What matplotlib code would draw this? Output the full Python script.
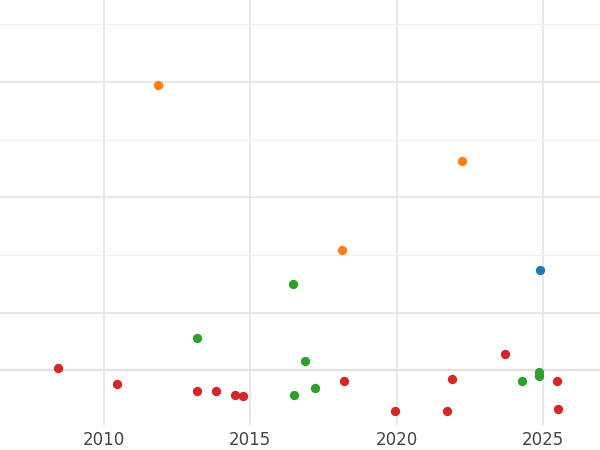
import matplotlib
matplotlib.use("Agg")
import matplotlib.pyplot as plt
from matplotlib.ticker import MultipleLocator, FixedLocator

orange_x = [2011.84, 2022.22, 2018.12]
orange_y = [4.95, 3.63, 2.08]
blue_x = [2024.91]
blue_y = [1.74]
green_x = [2016.45, 2013.17, 2016.86, 2016.48, 2017.20, 2024.85, 2024.85, 2024.27]
green_y = [1.49, 0.57, 0.17, -0.43, -0.31, -0.02, -0.10, -0.19]
red_x = [2008.43, 2010.44, 2013.17, 2013.82, 2014.47, 2014.74, 2018.19, 2019.93, 2021.71, 2021.91, 2023.72, 2025.49, 2025.53]
red_y = [0.05, -0.24, -0.35, -0.35, -0.42, -0.45, -0.19, -0.71, -0.71, -0.14, 0.28, -0.19, -0.66]

fig = plt.figure(figsize=(6, 4.5), dpi=100)
ax = fig.add_axes([0, 0.055, 1, 0.945])
ax.set_xlim(2006.45, 2026.95)
ax.set_ylim(-0.95, 6.42)
ax.xaxis.set_major_locator(MultipleLocator(5))
ax.yaxis.set_major_locator(FixedLocator([1, 3, 5]))
ax.yaxis.set_minor_locator(FixedLocator([2, 4, 6]))
ax.grid(True, which='major', color='#e6e6e6', lw=1.3)
ax.grid(True, which='minor', color='#f0f0f0', lw=0.8)
ax.axhline(0, color='#e0e0e0', lw=1.5, zorder=0)
ax.set_axisbelow(True)
for s in ax.spines.values():
    s.set_visible(False)
ax.tick_params(axis='x', length=0, labelsize=12, labelcolor='#444444', pad=4)
ax.tick_params(axis='y', which='both', length=0, labelleft=False)
kw = dict(s=45, zorder=3, linewidths=0)
ax.scatter(orange_x, orange_y, color='#ff7f0e', **kw)
ax.scatter(blue_x, blue_y, color='#1f77b4', **kw)
ax.scatter(green_x, green_y, color='#2ca02c', **kw)
ax.scatter(red_x, red_y, color='#d62728', **kw)
fig.savefig("out.png", dpi=100)
